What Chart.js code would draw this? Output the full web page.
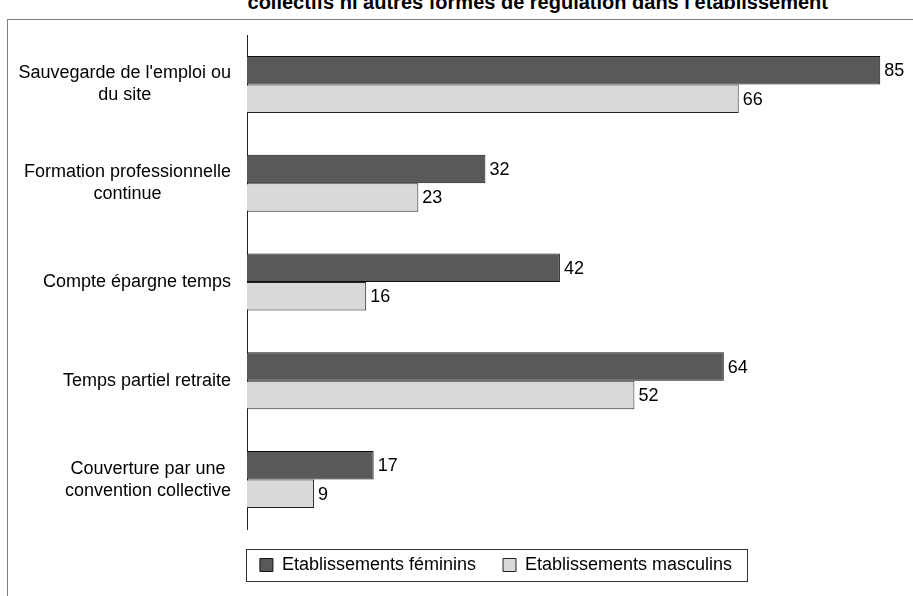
<!DOCTYPE html>
<html lang="fr">
<head>
<meta charset="utf-8">
<title>Etablissements féminins / masculins</title>
<script src="https://cdn.jsdelivr.net/npm/chart.js@4/dist/chart.umd.min.js"></script>
<style>
  html, body { margin: 0; padding: 0; background: #fff; }
  body { width: 913px; height: 596px; overflow: hidden; position: relative; }
  #frame {
    position: absolute; left: 7px; top: 19px; width: 1000px; height: 700px;
    border-left: 1px solid #808080; border-top: 1px solid #808080;
  }
  #title {
    position: absolute; right: 85px; top: -8px;
    font: bold 20px "Liberation Sans", Arial, sans-serif; line-height: 20px;
    color: #000; white-space: nowrap;
  }
  #wrap { position: absolute; left: 0; top: 0; }
</style>
</head>
<body>
<div id="frame"></div>
<div id="title">collectifs ni autres formes de régulation dans l'établissement</div>
<div id="wrap"><canvas id="chart" width="992" height="596"></canvas></div>
<script>
/* ---- data ------------------------------------------------- */
const categories = [
  ["Sauvegarde de l'emploi ou", "du site"],
  ["Formation professionnelle", "continue"],
  ["Compte épargne temps"],
  ["Temps partiel retraite"],
  ["Couverture par une", "convention collective"],
];
const seriesNames = ['Etablissements féminins', 'Etablissements masculins'];
const feminins = [85, 32, 42, 64, 17];
const masculins = [66, 23, 16, 52, 9];

const FONT = "'Liberation Sans', Arial, sans-serif";
const DARK = '#595959';
const LIGHT = '#d9d9d9';

Chart.defaults.font.family = FONT;
Chart.defaults.font.size = 18;
Chart.defaults.color = '#000';

/* ---- plugins ---------------------------------------------- */

// category labels: block right-aligned, lines centred inside the block
const categoryLabels = {
  id: 'categoryLabels',
  afterDraw(chart) {
    const { ctx, scales: { y } } = chart;
    ctx.save();
    ctx.font = '18px ' + FONT;
    ctx.fillStyle = '#000';
    ctx.textAlign = 'center';
    ctx.textBaseline = 'middle';
    const right = y.right - 16;
    const lh = 22;
    categories.forEach((lines, i) => {
      const w = Math.max(...lines.map(l => ctx.measureText(l).width));
      const cx = right - w / 2;
      const cy = y.getPixelForValue(i);
      lines.forEach((l, k) => ctx.fillText(l, cx, cy + (k - (lines.length - 1) / 2) * lh));
    });
    ctx.restore();
  },
};

// value at the end of each bar
const valueLabels = {
  id: 'valueLabels',
  afterDatasetsDraw(chart) {
    const { ctx } = chart;
    ctx.save();
    ctx.font = '18px ' + FONT;
    ctx.fillStyle = '#000';
    ctx.textAlign = 'left';
    ctx.textBaseline = 'middle';
    chart.data.datasets.forEach((ds, di) => {
      chart.getDatasetMeta(di).data.forEach((bar, i) => {
        ctx.fillText(String(ds.data[i]), bar.x + 4, bar.y + 1);
      });
    });
    ctx.restore();
  },
};

// thin box round the legend
const legendBox = {
  id: 'legendBox',
  afterDraw(chart) {
    const lg = chart.legend;
    if (!lg || !lg.legendHitBoxes.length) return;
    const hb = lg.legendHitBoxes;
    const first = hb[0], last = hb[hb.length - 1];
    const cy = first.top + first.height / 2;
    const left = Math.round(first.left - 14) + 0.5;
    const right = Math.round(last.left + last.width + 15) + 0.5;
    const ctx = chart.ctx;
    ctx.save();
    ctx.strokeStyle = '#333';
    ctx.lineWidth = 1;
    ctx.strokeRect(left, Math.round(cy - 16) + 0.5, right - left, 32);
    ctx.restore();
  },
};

/* ---- chart ------------------------------------------------ */
new Chart(document.getElementById('chart'), {
  type: 'bar',
  data: {
    labels: categories,
    datasets: [
      { label: seriesNames[0], data: feminins, backgroundColor: DARK, borderColor: '#111', borderWidth: 1 },
      { label: seriesNames[1], data: masculins, backgroundColor: LIGHT, borderColor: '#222', borderWidth: 1 },
    ],
  },
  options: {
    indexAxis: 'y',
    responsive: false,
    animation: false,
    categoryPercentage: 0.577,
    barPercentage: 1.0,
    layout: { padding: { top: 35, left: 0, right: 0, bottom: 12 } },
    plugins: {
      legend: {
        position: 'bottom',
        labels: {
          boxWidth: 13, boxHeight: 13, padding: 27,
          font: { size: 18 }, color: '#000',
        },
      },
      tooltip: { enabled: false },
      title: { display: false },
    },
    scales: {
      x: { display: false, min: 0, max: 100 },
      y: {
        grid: { display: false },
        border: { display: true, color: '#222', width: 1 },
        ticks: { display: false },
        afterFit(scale) { scale.width = 247; },
      },
    },
  },
  plugins: [categoryLabels, valueLabels, legendBox],
});
</script>
</body>
</html>
